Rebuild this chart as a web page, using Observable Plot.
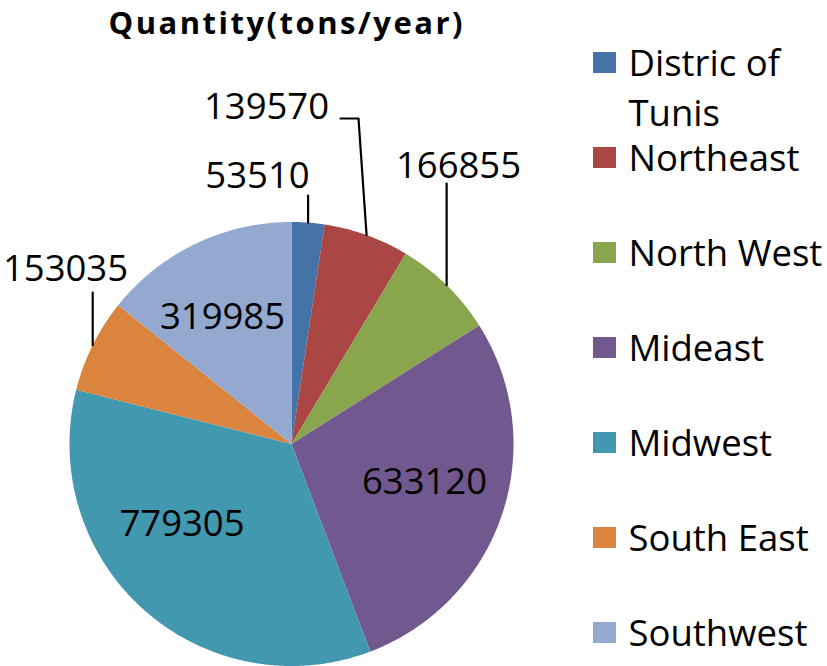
<!DOCTYPE html>
<html><head><meta charset="utf-8">
<script src="https://cdn.jsdelivr.net/npm/d3@7"></script>
<script src="https://cdn.jsdelivr.net/npm/@observablehq/plot@0.6"></script>
<style>body{margin:0;background:#fff}svg{display:block}</style>
</head><body><div id="chart"></div>
<script>
// ---- data ----
const categories = ["Distric of Tunis", "Northeast", "North West", "Mideast", "Midwest", "South East", "Southwest"];
const quantities = [53510, 139570, 166855, 633120, 779305, 153035, 319985];
const colors = ["#4572A7", "#AA4643", "#89A54E", "#71588F", "#4198AF", "#DB843D", "#93A9CF"];
const title = "Quantity(tons/year)";

// ---- layout (pixels) ----
const W = 827, H = 666;
const cx = 291, cy = 443.5, R = 222;
const font = "'Open Sans', sans-serif";
const fs = 36.5;
const legendLH = 50 / fs; // line height in em
// label anchor (centre x, baseline y) as offsets from pie centre
const labelOffset = [[-34, -256.5], [-25, -325.5], [167, -266.5], [133, 49.5], [-109.5, 91.5], [-226, -163.5], [-69, -115.5]];
// leader lines: null = inside label; otherwise points (offsets from pie centre) after the arc point
const leaderTail = [
  [["edge", -248.5]],
  [[67, -325.5], [49, -325.5]],
  [["edge", -260.5]],
  null, null,
  [["edge", -151.5]],
  null
];
const legend = {x0: 593, x1: 616, half: 10.5, top: 62.5, step: 95, textX: 628, baseline: 12.5};
const titlePos = {x: 285, baseline: 33, width: 354, size: 31};

// ---- geometry from data ----
const arcs = d3.pie().sort(null).value(d => d)(quantities);
const polar = (a, r) => [cx + r * Math.sin(a), cy - r * Math.cos(a)];

const slicePts = [];
arcs.forEach((a, i) => {
  const cat = categories[i];
  slicePts.push({cat, x: cx, y: cy});
  const n = Math.max(2, Math.ceil((a.endAngle - a.startAngle) / (Math.PI / 360)));
  for (let k = 0; k <= n; k++) {
    const t = a.startAngle + (a.endAngle - a.startAngle) * k / n;
    const [x, y] = polar(t, R);
    slicePts.push({cat, x, y});
  }
  slicePts.push({cat, x: cx, y: cy});
});

const leaderPts = [];
arcs.forEach((a, i) => {
  if (!leaderTail[i]) return;
  const mid = (a.startAngle + a.endAngle) / 2;
  const [ex, ey] = polar(mid, R);
  leaderPts.push({cat: categories[i], x: ex, y: ey});
  leaderTail[i].forEach(([dx, dy]) => {
    leaderPts.push({cat: categories[i], x: dx === "edge" ? ex : cx + dx, y: cy + dy});
  });
});

const labels = quantities.map((v, i) => ({
  text: String(v), x: cx + labelOffset[i][0], y: cy + labelOffset[i][1]
}));

const legendItems = categories.map((c, i) => ({
  cat: c,
  label: c.replace("of ", "of\n"),
  yc: legend.top + legend.step * i
}));

const chart = Plot.plot({
  width: W, height: H,
  margin: 0,
  x: {domain: [0, W], range: [0, W], axis: null},
  y: {domain: [0, H], range: [0, H], axis: null},
  color: {domain: categories, range: colors},
  style: {background: "white"},
  marks: [
    Plot.line(slicePts, {x: "x", y: "y", z: "cat", fill: "cat", stroke: "none", curve: "linear"}),
    Plot.line(leaderPts, {x: "x", y: "y", z: "cat", stroke: "black", strokeWidth: 2.2, curve: "linear"}),
    Plot.text(labels, {x: "x", y: "y", text: "text", lineAnchor: "bottom", textAnchor: "middle",
      fontSize: fs, fontFamily: font, fill: "black"}),
    Plot.rect(legendItems, {x1: () => legend.x0, x2: () => legend.x1,
      y1: d => d.yc - legend.half, y2: d => d.yc + legend.half, fill: "cat"}),
    Plot.text(legendItems, {x: () => legend.textX,
      y: d => d.yc + legend.baseline - 0.71 * legendLH * fs,
      text: "label", lineAnchor: "top", textAnchor: "start",
      fontSize: fs, fontFamily: font, lineHeight: legendLH, fill: "black"}),
    Plot.text([title], {x: () => titlePos.x, y: () => titlePos.baseline, text: d => d,
      lineAnchor: "bottom", textAnchor: "middle",
      fontSize: titlePos.size, fontWeight: "bold", fontFamily: font, fill: "black"})
  ]
});
document.getElementById("chart").appendChild(chart);
// stretch the title to the reference width
for (const t of chart.querySelectorAll("text")) {
  if (t.textContent === title) {
    t.setAttribute("textLength", titlePos.width);
    t.setAttribute("lengthAdjust", "spacing");
  }
}
</script>
</body></html>
